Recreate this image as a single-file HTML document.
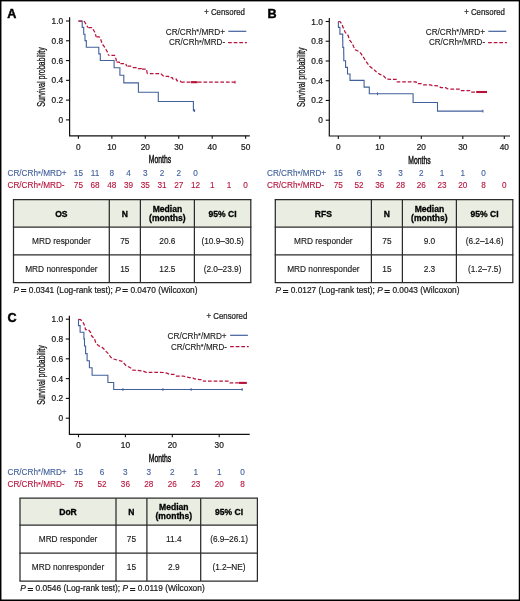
<!DOCTYPE html>
<html><head><meta charset="utf-8"><title>Figure</title>
<style>
html,body{margin:0;padding:0;background:#fff;}
body{width:520px;height:601px;overflow:hidden;}
svg{display:block;will-change:transform;font-family:"Liberation Sans", sans-serif;}
</style></head><body>
<svg width="520" height="601" viewBox="0 0 520 601">
<rect x="0" y="0" width="520" height="601" fill="#fff"/>
<rect x="0" y="0" width="1.45" height="601" fill="#000"/>
<rect x="0" y="0" width="520" height="1.4" fill="#000"/>
<rect x="518.75" y="0" width="1.25" height="601" fill="#000"/>
<rect x="0" y="599.5" width="520" height="1.5" fill="#000"/>
<path d="M69.6 17.3V135.8H249.8" stroke="#111" stroke-width="1.2" fill="none"/>
<path d="M66 119.9H69.6" stroke="#111" stroke-width="1.1"/>
<text x="63.1" y="122.9" font-size="8.3" text-anchor="end" fill="#1a1a1a" stroke="#1a1a1a" stroke-width="0.22">0</text>
<path d="M66 100.12H69.6" stroke="#111" stroke-width="1.1"/>
<text x="63.1" y="103.12" font-size="8.3" text-anchor="end" fill="#1a1a1a" stroke="#1a1a1a" stroke-width="0.22">0.2</text>
<path d="M66 80.34H69.6" stroke="#111" stroke-width="1.1"/>
<text x="63.1" y="83.34" font-size="8.3" text-anchor="end" fill="#1a1a1a" stroke="#1a1a1a" stroke-width="0.22">0.4</text>
<path d="M66 60.56H69.6" stroke="#111" stroke-width="1.1"/>
<text x="63.1" y="63.56" font-size="8.3" text-anchor="end" fill="#1a1a1a" stroke="#1a1a1a" stroke-width="0.22">0.6</text>
<path d="M66 40.78H69.6" stroke="#111" stroke-width="1.1"/>
<text x="63.1" y="43.78" font-size="8.3" text-anchor="end" fill="#1a1a1a" stroke="#1a1a1a" stroke-width="0.22">0.8</text>
<path d="M66 21H69.6" stroke="#111" stroke-width="1.1"/>
<text x="63.1" y="24" font-size="8.3" text-anchor="end" fill="#1a1a1a" stroke="#1a1a1a" stroke-width="0.22">1.0</text>
<path d="M78.4 135.8V138.8" stroke="#111" stroke-width="1.1"/>
<text x="78.4" y="150" font-size="8.3" text-anchor="middle" fill="#1a1a1a" stroke="#1a1a1a" stroke-width="0.22">0</text>
<path d="M111.85 135.8V138.8" stroke="#111" stroke-width="1.1"/>
<text x="111.85" y="150" font-size="8.3" text-anchor="middle" fill="#1a1a1a" stroke="#1a1a1a" stroke-width="0.22">10</text>
<path d="M145.3 135.8V138.8" stroke="#111" stroke-width="1.1"/>
<text x="145.3" y="150" font-size="8.3" text-anchor="middle" fill="#1a1a1a" stroke="#1a1a1a" stroke-width="0.22">20</text>
<path d="M178.75 135.8V138.8" stroke="#111" stroke-width="1.1"/>
<text x="178.75" y="150" font-size="8.3" text-anchor="middle" fill="#1a1a1a" stroke="#1a1a1a" stroke-width="0.22">30</text>
<path d="M212.2 135.8V138.8" stroke="#111" stroke-width="1.1"/>
<text x="212.2" y="150" font-size="8.3" text-anchor="middle" fill="#1a1a1a" stroke="#1a1a1a" stroke-width="0.22">40</text>
<path d="M245.65 135.8V138.8" stroke="#111" stroke-width="1.1"/>
<text x="245.65" y="150" font-size="8.3" text-anchor="middle" fill="#1a1a1a" stroke="#1a1a1a" stroke-width="0.22">50</text>
<text x="160" y="163.4" font-size="10.4" text-anchor="middle" fill="#111" textLength="22.3" lengthAdjust="spacingAndGlyphs" stroke="#111" stroke-width="0.45">Months</text>
<text x="0" y="0" font-size="10.3" stroke="#111" stroke-width="0.28" text-anchor="middle" fill="#111" textLength="59.5" lengthAdjust="spacingAndGlyphs" transform="translate(45 77) rotate(-90)">Survival probability</text>
<text x="7.2" y="18.1" font-size="12.6" text-anchor="start" font-weight="bold" fill="#000" stroke="#000" stroke-width="0.45">A</text>
<text x="245" y="14.7" font-size="8.6" text-anchor="end" fill="#1a1a1a" textLength="40.8" lengthAdjust="spacingAndGlyphs" stroke="#1a1a1a" stroke-width="0.22">+ Censored</text>
<text x="225" y="34.6" font-size="8.3" text-anchor="end" fill="#1a1a1a" textLength="59.3" lengthAdjust="spacingAndGlyphs" stroke="#1a1a1a" stroke-width="0.12">CR/CRh<tspan font-size="7.4" dy="-0.5">*</tspan><tspan dy="0.5">/MRD+</tspan></text>
<text x="225.1" y="45.4" font-size="8.3" text-anchor="end" fill="#1a1a1a" textLength="56.2" lengthAdjust="spacingAndGlyphs" stroke="#1a1a1a" stroke-width="0.12">CR/CRh<tspan font-size="7.4" dy="-0.5">*</tspan><tspan dy="0.5">/MRD-</tspan></text>
<path d="M228.3 31.3H246.3" stroke="#42609b" stroke-width="1.2"/>
<path d="M228.1 42.6H246.9" stroke="#b8123b" stroke-width="1.25" stroke-dasharray="3.7 1.9"/>
<path d="M78.4 21H82.2V27.4H83.7V34.2H85V40.6H86.3V47.3H98.8V53.9H100.3V60.5H114.1V67.7H119.9V75.2H123.8V82.9H138.4V92.2H158.3V101.45H193.4V110.6H194.8" stroke="#42609b" stroke-width="1.1" fill="none" stroke-linejoin="miter"/>
<path d="M194.6 109.2V112" stroke="#42609b" stroke-width="1" fill="none"/>
<path d="M78.4 21 L84 21 L85.4 23.2 L86.5 24.8 L87.8 27.5" stroke="#b8123b" stroke-width="1.25" fill="none" stroke-dasharray="3.7 1.92" stroke-dashoffset="0"/>
<path d="M87.8 27.5 L91.9 27.5 L93.3 29.8 L94.8 32.2 L96.2 36.8" stroke="#b8123b" stroke-width="1.25" fill="none" stroke-dasharray="3.7 1.92" stroke-dashoffset="5.12"/>
<path d="M96.2 36.8 L99.1 36.8 L100.8 39.5 L102.2 44 L104.3 46.7 L106 49.5 L107.5 52.2 L108.6 55.4" stroke="#b8123b" stroke-width="1.25" fill="none" stroke-dasharray="3.7 1.92" stroke-dashoffset="5.42"/>
<path d="M108.6 55.4 L114.5 55.4 L116 58.8 L116.4 62.1" stroke="#b8123b" stroke-width="1.25" fill="none" stroke-dasharray="3.7 1.92" stroke-dashoffset="2.82"/>
<path d="M116.4 62.1 L119.2 62.1 L120.2 63.7" stroke="#b8123b" stroke-width="1.25" fill="none" stroke-dasharray="3.7 1.92" stroke-dashoffset="5.42"/>
<path d="M120.2 63.7 L125.8 63.7 L126.6 66.2" stroke="#b8123b" stroke-width="1.25" fill="none" stroke-dasharray="3.7 1.92" stroke-dashoffset="5.42"/>
<path d="M126.6 66.2 L131.6 66.2 L132.6 67.5" stroke="#b8123b" stroke-width="1.25" fill="none" stroke-dasharray="3.7 1.92" stroke-dashoffset="4.72"/>
<path d="M132.6 67.5 L137.4 67.5 L138.2 68.5 L141.4 68.5 L141.8 69.1" stroke="#b8123b" stroke-width="1.25" fill="none" stroke-dasharray="3.7 1.92" stroke-dashoffset="5.32"/>
<path d="M141.8 69.1 L146.5 69.1 L147.2 73.5" stroke="#b8123b" stroke-width="1.25" fill="none" stroke-dasharray="3.7 1.92" stroke-dashoffset="5.42"/>
<path d="M147.2 73.5 L160.8 73.5 L162.2 75 L163.8 76.2 L168.4 76.4 L169.2 77.5 L172.2 77.7 L172.9 79 L176.4 79.2 L177 80.8 L180.2 81 L181 82.2" stroke="#b8123b" stroke-width="1.25" fill="none" stroke-dasharray="3.7 1.92" stroke-dashoffset="3.02"/>
<path d="M181 82.2 L235.2 82.2" stroke="#b8123b" stroke-width="1.25" fill="none" stroke-dasharray="3.7 1.92" stroke-dashoffset="0"/>
<path d="M235 80.8V83.6" stroke="#b8123b" stroke-width="1" fill="none"/>
<path d="M190.8 82.2H197.6" stroke="#b8123b" stroke-width="2.1"/>
<text x="7.5" y="176.2" font-size="8.2" text-anchor="start" fill="#42609b" stroke="#42609b" stroke-width="0.12">CR/CRh<tspan font-size="7.4" dy="-0.5">*</tspan><tspan dy="0.5">/MRD+</tspan></text>
<text x="7.5" y="188.4" font-size="8.2" text-anchor="start" fill="#b8123b" stroke="#b8123b" stroke-width="0.12">CR/CRh<tspan font-size="7.4" dy="-0.5">*</tspan><tspan dy="0.5">/MRD-</tspan></text>
<text x="78.4" y="176.2" font-size="8.2" text-anchor="middle" fill="#42609b" stroke="#42609b" stroke-width="0.12">15</text>
<text x="95.12" y="176.2" font-size="8.2" text-anchor="middle" fill="#42609b" stroke="#42609b" stroke-width="0.12">11</text>
<text x="111.85" y="176.2" font-size="8.2" text-anchor="middle" fill="#42609b" stroke="#42609b" stroke-width="0.12">8</text>
<text x="128.58" y="176.2" font-size="8.2" text-anchor="middle" fill="#42609b" stroke="#42609b" stroke-width="0.12">4</text>
<text x="145.3" y="176.2" font-size="8.2" text-anchor="middle" fill="#42609b" stroke="#42609b" stroke-width="0.12">3</text>
<text x="162.03" y="176.2" font-size="8.2" text-anchor="middle" fill="#42609b" stroke="#42609b" stroke-width="0.12">2</text>
<text x="178.75" y="176.2" font-size="8.2" text-anchor="middle" fill="#42609b" stroke="#42609b" stroke-width="0.12">2</text>
<text x="195.48" y="176.2" font-size="8.2" text-anchor="middle" fill="#42609b" stroke="#42609b" stroke-width="0.12">0</text>
<text x="78.4" y="188.4" font-size="8.2" text-anchor="middle" fill="#b8123b" stroke="#b8123b" stroke-width="0.12">75</text>
<text x="95.12" y="188.4" font-size="8.2" text-anchor="middle" fill="#b8123b" stroke="#b8123b" stroke-width="0.12">68</text>
<text x="111.85" y="188.4" font-size="8.2" text-anchor="middle" fill="#b8123b" stroke="#b8123b" stroke-width="0.12">48</text>
<text x="128.58" y="188.4" font-size="8.2" text-anchor="middle" fill="#b8123b" stroke="#b8123b" stroke-width="0.12">39</text>
<text x="145.3" y="188.4" font-size="8.2" text-anchor="middle" fill="#b8123b" stroke="#b8123b" stroke-width="0.12">35</text>
<text x="162.03" y="188.4" font-size="8.2" text-anchor="middle" fill="#b8123b" stroke="#b8123b" stroke-width="0.12">31</text>
<text x="178.75" y="188.4" font-size="8.2" text-anchor="middle" fill="#b8123b" stroke="#b8123b" stroke-width="0.12">27</text>
<text x="195.48" y="188.4" font-size="8.2" text-anchor="middle" fill="#b8123b" stroke="#b8123b" stroke-width="0.12">12</text>
<text x="212.2" y="188.4" font-size="8.2" text-anchor="middle" fill="#b8123b" stroke="#b8123b" stroke-width="0.12">1</text>
<text x="228.93" y="188.4" font-size="8.2" text-anchor="middle" fill="#b8123b" stroke="#b8123b" stroke-width="0.12">1</text>
<text x="245.65" y="188.4" font-size="8.2" text-anchor="middle" fill="#b8123b" stroke="#b8123b" stroke-width="0.12">0</text>
<path d="M329.3 18V136H510" stroke="#111" stroke-width="1.2" fill="none"/>
<path d="M325.7 120.2H329.3" stroke="#111" stroke-width="1.1"/>
<text x="322.9" y="123.2" font-size="8.3" text-anchor="end" fill="#1a1a1a" stroke="#1a1a1a" stroke-width="0.22">0</text>
<path d="M325.7 100.46H329.3" stroke="#111" stroke-width="1.1"/>
<text x="322.9" y="103.46" font-size="8.3" text-anchor="end" fill="#1a1a1a" stroke="#1a1a1a" stroke-width="0.22">0.2</text>
<path d="M325.7 80.72H329.3" stroke="#111" stroke-width="1.1"/>
<text x="322.9" y="83.72" font-size="8.3" text-anchor="end" fill="#1a1a1a" stroke="#1a1a1a" stroke-width="0.22">0.4</text>
<path d="M325.7 60.98H329.3" stroke="#111" stroke-width="1.1"/>
<text x="322.9" y="63.98" font-size="8.3" text-anchor="end" fill="#1a1a1a" stroke="#1a1a1a" stroke-width="0.22">0.6</text>
<path d="M325.7 41.24H329.3" stroke="#111" stroke-width="1.1"/>
<text x="322.9" y="44.24" font-size="8.3" text-anchor="end" fill="#1a1a1a" stroke="#1a1a1a" stroke-width="0.22">0.8</text>
<path d="M325.7 21.5H329.3" stroke="#111" stroke-width="1.1"/>
<text x="322.9" y="24.5" font-size="8.3" text-anchor="end" fill="#1a1a1a" stroke="#1a1a1a" stroke-width="0.22">1.0</text>
<path d="M338.3 136V139" stroke="#111" stroke-width="1.1"/>
<text x="338.3" y="150" font-size="8.3" text-anchor="middle" fill="#1a1a1a" stroke="#1a1a1a" stroke-width="0.22">0</text>
<path d="M379.8 136V139" stroke="#111" stroke-width="1.1"/>
<text x="379.8" y="150" font-size="8.3" text-anchor="middle" fill="#1a1a1a" stroke="#1a1a1a" stroke-width="0.22">10</text>
<path d="M421.3 136V139" stroke="#111" stroke-width="1.1"/>
<text x="421.3" y="150" font-size="8.3" text-anchor="middle" fill="#1a1a1a" stroke="#1a1a1a" stroke-width="0.22">20</text>
<path d="M462.8 136V139" stroke="#111" stroke-width="1.1"/>
<text x="462.8" y="150" font-size="8.3" text-anchor="middle" fill="#1a1a1a" stroke="#1a1a1a" stroke-width="0.22">30</text>
<path d="M504.3 136V139" stroke="#111" stroke-width="1.1"/>
<text x="504.3" y="150" font-size="8.3" text-anchor="middle" fill="#1a1a1a" stroke="#1a1a1a" stroke-width="0.22">40</text>
<text x="419.5" y="163.5" font-size="10.4" text-anchor="middle" fill="#111" textLength="22.3" lengthAdjust="spacingAndGlyphs" stroke="#111" stroke-width="0.45">Months</text>
<text x="0" y="0" font-size="10.3" stroke="#111" stroke-width="0.28" text-anchor="middle" fill="#111" textLength="59.5" lengthAdjust="spacingAndGlyphs" transform="translate(305 77.2) rotate(-90)">Survival probability</text>
<text x="267.4" y="17.9" font-size="12.6" text-anchor="start" font-weight="bold" fill="#000" stroke="#000" stroke-width="0.45">B</text>
<text x="505" y="14.7" font-size="8.6" text-anchor="end" fill="#1a1a1a" textLength="40.8" lengthAdjust="spacingAndGlyphs" stroke="#1a1a1a" stroke-width="0.22">+ Censored</text>
<text x="485" y="34.6" font-size="8.3" text-anchor="end" fill="#1a1a1a" textLength="59.3" lengthAdjust="spacingAndGlyphs" stroke="#1a1a1a" stroke-width="0.12">CR/CRh<tspan font-size="7.4" dy="-0.5">*</tspan><tspan dy="0.5">/MRD+</tspan></text>
<text x="485.1" y="45.4" font-size="8.3" text-anchor="end" fill="#1a1a1a" textLength="56.2" lengthAdjust="spacingAndGlyphs" stroke="#1a1a1a" stroke-width="0.12">CR/CRh<tspan font-size="7.4" dy="-0.5">*</tspan><tspan dy="0.5">/MRD-</tspan></text>
<path d="M488.3 31.3H506.3" stroke="#42609b" stroke-width="1.2"/>
<path d="M488.1 42.6H506.9" stroke="#b8123b" stroke-width="1.25" stroke-dasharray="3.7 1.9"/>
<path d="M338.4 21.5V27.4H339.9V34.1H342.7V40.8H342.8V47.4H343.7V54H343.8V60.7H345.6V67.4H347.5V74H350V80.4H364.1V87.1H369.3V93.8H413.1V102.5H437.5V111.1H483" stroke="#42609b" stroke-width="1.1" fill="none" stroke-linejoin="miter"/>
<path d="M377.5 92.4V95.2" stroke="#42609b" stroke-width="1" fill="none"/>
<path d="M482.9 109.7V112.5" stroke="#42609b" stroke-width="1" fill="none"/>
<path d="M338.4 21.5 L340.3 21.9 L342 24.5 L343.6 28.8 L345.3 32.5 L348 35.2 L349.5 40 L352 43 L353.8 47 L355.7 50 L359.5 51.7 L361.2 53.8 L362.9 56.4 L366.2 61.7 L369.6 66.3 L373 68.8 L376.2 71.7 L380 74.4 L383.5 75.8 L386.6 79.2 L396.7 79.4 L397.2 81.9 L416 81.9 L416.8 83.7 L421.5 83.7 L423.5 84.8 L430.5 84.9 L432.7 85.7 L438.5 85.8 L440.8 87.5 L445.5 87.5 L447.1 88.6 L448.5 89" stroke="#b8123b" stroke-width="1.25" fill="none" stroke-dasharray="3.7 1.92" stroke-dashoffset="0"/>
<path d="M448.5 89 L459.8 89 L460.8 90.5 L469.6 90.5 L470.5 92 L486.8 92" stroke="#b8123b" stroke-width="1.25" fill="none" stroke-dasharray="3.7 1.92" stroke-dashoffset="3.72"/>
<path d="M476.2 92H487" stroke="#b8123b" stroke-width="2.1"/>
<text x="267" y="176.2" font-size="8.2" text-anchor="start" fill="#42609b" stroke="#42609b" stroke-width="0.12">CR/CRh<tspan font-size="7.4" dy="-0.5">*</tspan><tspan dy="0.5">/MRD+</tspan></text>
<text x="267" y="188.4" font-size="8.2" text-anchor="start" fill="#b8123b" stroke="#b8123b" stroke-width="0.12">CR/CRh<tspan font-size="7.4" dy="-0.5">*</tspan><tspan dy="0.5">/MRD-</tspan></text>
<text x="338.3" y="176.2" font-size="8.2" text-anchor="middle" fill="#42609b" stroke="#42609b" stroke-width="0.12">15</text>
<text x="359.05" y="176.2" font-size="8.2" text-anchor="middle" fill="#42609b" stroke="#42609b" stroke-width="0.12">6</text>
<text x="379.8" y="176.2" font-size="8.2" text-anchor="middle" fill="#42609b" stroke="#42609b" stroke-width="0.12">3</text>
<text x="400.55" y="176.2" font-size="8.2" text-anchor="middle" fill="#42609b" stroke="#42609b" stroke-width="0.12">3</text>
<text x="421.3" y="176.2" font-size="8.2" text-anchor="middle" fill="#42609b" stroke="#42609b" stroke-width="0.12">2</text>
<text x="442.05" y="176.2" font-size="8.2" text-anchor="middle" fill="#42609b" stroke="#42609b" stroke-width="0.12">1</text>
<text x="462.8" y="176.2" font-size="8.2" text-anchor="middle" fill="#42609b" stroke="#42609b" stroke-width="0.12">1</text>
<text x="483.55" y="176.2" font-size="8.2" text-anchor="middle" fill="#42609b" stroke="#42609b" stroke-width="0.12">0</text>
<text x="338.3" y="188.4" font-size="8.2" text-anchor="middle" fill="#b8123b" stroke="#b8123b" stroke-width="0.12">75</text>
<text x="359.05" y="188.4" font-size="8.2" text-anchor="middle" fill="#b8123b" stroke="#b8123b" stroke-width="0.12">52</text>
<text x="379.8" y="188.4" font-size="8.2" text-anchor="middle" fill="#b8123b" stroke="#b8123b" stroke-width="0.12">36</text>
<text x="400.55" y="188.4" font-size="8.2" text-anchor="middle" fill="#b8123b" stroke="#b8123b" stroke-width="0.12">28</text>
<text x="421.3" y="188.4" font-size="8.2" text-anchor="middle" fill="#b8123b" stroke="#b8123b" stroke-width="0.12">26</text>
<text x="442.05" y="188.4" font-size="8.2" text-anchor="middle" fill="#b8123b" stroke="#b8123b" stroke-width="0.12">23</text>
<text x="462.8" y="188.4" font-size="8.2" text-anchor="middle" fill="#b8123b" stroke="#b8123b" stroke-width="0.12">20</text>
<text x="483.55" y="188.4" font-size="8.2" text-anchor="middle" fill="#b8123b" stroke="#b8123b" stroke-width="0.12">8</text>
<text x="504.3" y="188.4" font-size="8.2" text-anchor="middle" fill="#b8123b" stroke="#b8123b" stroke-width="0.12">0</text>
<path d="M69.4 315.8V434.3H249.7" stroke="#111" stroke-width="1.2" fill="none"/>
<path d="M65.8 418.2H69.4" stroke="#111" stroke-width="1.1"/>
<text x="63.1" y="421.2" font-size="8.3" text-anchor="end" fill="#1a1a1a" stroke="#1a1a1a" stroke-width="0.22">0</text>
<path d="M65.8 398.4H69.4" stroke="#111" stroke-width="1.1"/>
<text x="63.1" y="401.4" font-size="8.3" text-anchor="end" fill="#1a1a1a" stroke="#1a1a1a" stroke-width="0.22">0.2</text>
<path d="M65.8 378.6H69.4" stroke="#111" stroke-width="1.1"/>
<text x="63.1" y="381.6" font-size="8.3" text-anchor="end" fill="#1a1a1a" stroke="#1a1a1a" stroke-width="0.22">0.4</text>
<path d="M65.8 358.8H69.4" stroke="#111" stroke-width="1.1"/>
<text x="63.1" y="361.8" font-size="8.3" text-anchor="end" fill="#1a1a1a" stroke="#1a1a1a" stroke-width="0.22">0.6</text>
<path d="M65.8 339H69.4" stroke="#111" stroke-width="1.1"/>
<text x="63.1" y="342" font-size="8.3" text-anchor="end" fill="#1a1a1a" stroke="#1a1a1a" stroke-width="0.22">0.8</text>
<path d="M65.8 319.2H69.4" stroke="#111" stroke-width="1.1"/>
<text x="63.1" y="322.2" font-size="8.3" text-anchor="end" fill="#1a1a1a" stroke="#1a1a1a" stroke-width="0.22">1.0</text>
<path d="M78.5 434.3V437.3" stroke="#111" stroke-width="1.1"/>
<text x="78.5" y="448.4" font-size="8.3" text-anchor="middle" fill="#1a1a1a" stroke="#1a1a1a" stroke-width="0.22">0</text>
<path d="M125.4 434.3V437.3" stroke="#111" stroke-width="1.1"/>
<text x="125.4" y="448.4" font-size="8.3" text-anchor="middle" fill="#1a1a1a" stroke="#1a1a1a" stroke-width="0.22">10</text>
<path d="M172.3 434.3V437.3" stroke="#111" stroke-width="1.1"/>
<text x="172.3" y="448.4" font-size="8.3" text-anchor="middle" fill="#1a1a1a" stroke="#1a1a1a" stroke-width="0.22">20</text>
<path d="M219.2 434.3V437.3" stroke="#111" stroke-width="1.1"/>
<text x="219.2" y="448.4" font-size="8.3" text-anchor="middle" fill="#1a1a1a" stroke="#1a1a1a" stroke-width="0.22">30</text>
<text x="160" y="462.4" font-size="10.4" text-anchor="middle" fill="#111" textLength="22.3" lengthAdjust="spacingAndGlyphs" stroke="#111" stroke-width="0.45">Months</text>
<text x="0" y="0" font-size="10.3" stroke="#111" stroke-width="0.28" text-anchor="middle" fill="#111" textLength="59.5" lengthAdjust="spacingAndGlyphs" transform="translate(45 375) rotate(-90)">Survival probability</text>
<text x="7.4" y="321.8" font-size="12.6" text-anchor="start" font-weight="bold" fill="#000" stroke="#000" stroke-width="0.45">C</text>
<text x="247.3" y="319" font-size="8.6" text-anchor="end" fill="#1a1a1a" textLength="40.8" lengthAdjust="spacingAndGlyphs" stroke="#1a1a1a" stroke-width="0.22">+ Censored</text>
<text x="226.6" y="338.5" font-size="8.3" text-anchor="end" fill="#1a1a1a" textLength="59" lengthAdjust="spacingAndGlyphs" stroke="#1a1a1a" stroke-width="0.12">CR/CRh<tspan font-size="7.4" dy="-0.5">*</tspan><tspan dy="0.5">/MRD+</tspan></text>
<text x="226.9" y="349.5" font-size="8.3" text-anchor="end" fill="#1a1a1a" textLength="56" lengthAdjust="spacingAndGlyphs" stroke="#1a1a1a" stroke-width="0.12">CR/CRh<tspan font-size="7.4" dy="-0.5">*</tspan><tspan dy="0.5">/MRD-</tspan></text>
<path d="M230.1 335.3H247.9" stroke="#42609b" stroke-width="1.2"/>
<path d="M230.1 346.5H248.7" stroke="#b8123b" stroke-width="1.25" stroke-dasharray="3.7 1.9"/>
<path d="M78.5 319.3V325.6H80.1V332.3H83.9V338.9H84.5V345.8H84.9V346.3H85.6V353.6H87.1V360.8H89.4V367.7H92.1V375.2H107.9V382.5H113.7V389.5H242.3" stroke="#42609b" stroke-width="1.1" fill="none" stroke-linejoin="miter"/>
<path d="M122.9 388.1V390.9" stroke="#42609b" stroke-width="1" fill="none"/>
<path d="M162.9 388.1V390.9" stroke="#42609b" stroke-width="1" fill="none"/>
<path d="M191.1 388.1V390.9" stroke="#42609b" stroke-width="1" fill="none"/>
<path d="M242.2 388.1V390.9" stroke="#42609b" stroke-width="1" fill="none"/>
<path d="M78.5 319.3 L80.5 319.7 L82.8 321.6 L84.7 325.8 L85.5 329.7 L88.5 329.8 L90.5 332.4 L91.6 335.8 L94.3 338.5 L95.8 342.8 L98.2 345.5 L102 347.4 L103.5 348.5 L105.6 351 L108.5 353.8 L110.8 357.3 L113.7 359 L117.7 360.2 L122.3 361.3 L125.8 365.4 L130.4 367.7 L132.3 370 L142.7 370.9 L146.2 372.3 L163.5 372.5 L166.9 373.2 L169.8 374.4 L173.8 374.4 L176.2 376 L183.1 376 L186.5 376.9 L189.4 377.6 L192.4 377.6 L194.4 378.8 L197.1 378.8 L199.1 379.5 L201.8 379.5 L203.2 381.1" stroke="#b8123b" stroke-width="1.25" fill="none" stroke-dasharray="3.7 1.92" stroke-dashoffset="0"/>
<path d="M203.2 381.1 L228.7 381.1 L230 382.9 L246.9 382.9" stroke="#b8123b" stroke-width="1.25" fill="none" stroke-dasharray="3.7 1.92" stroke-dashoffset="0.82"/>
<path d="M239 382.9H246.8" stroke="#b8123b" stroke-width="2.1"/>
<text x="7.5" y="474.8" font-size="8.2" text-anchor="start" fill="#42609b" stroke="#42609b" stroke-width="0.12">CR/CRh<tspan font-size="7.4" dy="-0.5">*</tspan><tspan dy="0.5">/MRD+</tspan></text>
<text x="7.5" y="487.3" font-size="8.2" text-anchor="start" fill="#b8123b" stroke="#b8123b" stroke-width="0.12">CR/CRh<tspan font-size="7.4" dy="-0.5">*</tspan><tspan dy="0.5">/MRD-</tspan></text>
<text x="78.5" y="474.8" font-size="8.2" text-anchor="middle" fill="#42609b" stroke="#42609b" stroke-width="0.12">15</text>
<text x="101.95" y="474.8" font-size="8.2" text-anchor="middle" fill="#42609b" stroke="#42609b" stroke-width="0.12">6</text>
<text x="125.4" y="474.8" font-size="8.2" text-anchor="middle" fill="#42609b" stroke="#42609b" stroke-width="0.12">3</text>
<text x="148.85" y="474.8" font-size="8.2" text-anchor="middle" fill="#42609b" stroke="#42609b" stroke-width="0.12">3</text>
<text x="172.3" y="474.8" font-size="8.2" text-anchor="middle" fill="#42609b" stroke="#42609b" stroke-width="0.12">2</text>
<text x="195.75" y="474.8" font-size="8.2" text-anchor="middle" fill="#42609b" stroke="#42609b" stroke-width="0.12">1</text>
<text x="219.2" y="474.8" font-size="8.2" text-anchor="middle" fill="#42609b" stroke="#42609b" stroke-width="0.12">1</text>
<text x="242.65" y="474.8" font-size="8.2" text-anchor="middle" fill="#42609b" stroke="#42609b" stroke-width="0.12">0</text>
<text x="78.5" y="487.3" font-size="8.2" text-anchor="middle" fill="#b8123b" stroke="#b8123b" stroke-width="0.12">75</text>
<text x="101.95" y="487.3" font-size="8.2" text-anchor="middle" fill="#b8123b" stroke="#b8123b" stroke-width="0.12">52</text>
<text x="125.4" y="487.3" font-size="8.2" text-anchor="middle" fill="#b8123b" stroke="#b8123b" stroke-width="0.12">36</text>
<text x="148.85" y="487.3" font-size="8.2" text-anchor="middle" fill="#b8123b" stroke="#b8123b" stroke-width="0.12">28</text>
<text x="172.3" y="487.3" font-size="8.2" text-anchor="middle" fill="#b8123b" stroke="#b8123b" stroke-width="0.12">26</text>
<text x="195.75" y="487.3" font-size="8.2" text-anchor="middle" fill="#b8123b" stroke="#b8123b" stroke-width="0.12">23</text>
<text x="219.2" y="487.3" font-size="8.2" text-anchor="middle" fill="#b8123b" stroke="#b8123b" stroke-width="0.12">20</text>
<text x="242.65" y="487.3" font-size="8.2" text-anchor="middle" fill="#b8123b" stroke="#b8123b" stroke-width="0.12">8</text>
<rect x="13.5" y="199.6" width="237.3" height="27.4" fill="#eaede1"/>
<path d="M12.9 199.6H251.4" stroke="#2b2b2b" stroke-width="1.25"/>
<path d="M12.9 227H251.4" stroke="#2b2b2b" stroke-width="1.25"/>
<path d="M12.9 254.9H251.4" stroke="#2b2b2b" stroke-width="1.25"/>
<path d="M12.9 282.6H251.4" stroke="#2b2b2b" stroke-width="1.25"/>
<path d="M13.5 199.6V282.6" stroke="#2b2b2b" stroke-width="1.25"/>
<path d="M109.3 199.6V282.6" stroke="#2b2b2b" stroke-width="1.25"/>
<path d="M140.4 199.6V282.6" stroke="#2b2b2b" stroke-width="1.25"/>
<path d="M194.4 199.6V282.6" stroke="#2b2b2b" stroke-width="1.25"/>
<path d="M250.8 199.6V282.6" stroke="#2b2b2b" stroke-width="1.25"/>
<text x="61.4" y="216.5" font-size="8.55" text-anchor="middle" font-weight="bold" fill="#000" stroke="#000" stroke-width="0.3">OS</text>
<text x="124.85" y="216.5" font-size="8.55" text-anchor="middle" font-weight="bold" fill="#000" stroke="#000" stroke-width="0.3">N</text>
<text x="167.4" y="211.6" font-size="8.55" text-anchor="middle" font-weight="bold" fill="#000" stroke="#000" stroke-width="0.3">Median</text>
<text x="167.4" y="220.8" font-size="8.55" text-anchor="middle" font-weight="bold" fill="#000" stroke="#000" stroke-width="0.3">(months)</text>
<text x="222.6" y="216.5" font-size="8.55" text-anchor="middle" font-weight="bold" fill="#000" stroke="#000" stroke-width="0.3">95% CI</text>
<text x="61.4" y="243.85" font-size="8.3" text-anchor="middle" fill="#1a1a1a" stroke="#1a1a1a" stroke-width="0.14">MRD responder</text>
<text x="124.85" y="243.85" font-size="8.3" text-anchor="middle" fill="#1a1a1a" stroke="#1a1a1a" stroke-width="0.14">75</text>
<text x="167.4" y="243.85" font-size="8.3" text-anchor="middle" fill="#1a1a1a" stroke="#1a1a1a" stroke-width="0.14">20.6</text>
<text x="222.6" y="243.85" font-size="8.3" text-anchor="middle" fill="#1a1a1a" stroke="#1a1a1a" stroke-width="0.14">(10.9–30.5)</text>
<text x="61.4" y="271.65" font-size="8.3" text-anchor="middle" fill="#1a1a1a" stroke="#1a1a1a" stroke-width="0.14">MRD nonresponder</text>
<text x="124.85" y="271.65" font-size="8.3" text-anchor="middle" fill="#1a1a1a" stroke="#1a1a1a" stroke-width="0.14">15</text>
<text x="167.4" y="271.65" font-size="8.3" text-anchor="middle" fill="#1a1a1a" stroke="#1a1a1a" stroke-width="0.14">12.5</text>
<text x="222.6" y="271.65" font-size="8.3" text-anchor="middle" fill="#1a1a1a" stroke="#1a1a1a" stroke-width="0.14">(2.0–23.9)</text>
<text x="13.6" y="292.6" font-size="8.3" fill="#1a1a1a" stroke="#1a1a1a" stroke-width="0.2" textLength="183.8" lengthAdjust="spacingAndGlyphs"><tspan font-style="italic">P</tspan><tspan font-size="9.8" dx="1.6" dy="0.8" stroke-width="0.45">=</tspan><tspan dy="-0.8"> 0.0341 (Log-rank test); </tspan><tspan font-style="italic">P</tspan><tspan font-size="9.8" dx="1.6" dy="0.8" stroke-width="0.45">=</tspan><tspan dy="-0.8"> 0.0470 (Wilcoxon)</tspan></text>
<rect x="275.3" y="199.6" width="237.5" height="27.4" fill="#eaede1"/>
<path d="M274.7 199.6H513.4" stroke="#2b2b2b" stroke-width="1.25"/>
<path d="M274.7 227H513.4" stroke="#2b2b2b" stroke-width="1.25"/>
<path d="M274.7 254.9H513.4" stroke="#2b2b2b" stroke-width="1.25"/>
<path d="M274.7 282.6H513.4" stroke="#2b2b2b" stroke-width="1.25"/>
<path d="M275.3 199.6V282.6" stroke="#2b2b2b" stroke-width="1.25"/>
<path d="M371.4 199.6V282.6" stroke="#2b2b2b" stroke-width="1.25"/>
<path d="M402.4 199.6V282.6" stroke="#2b2b2b" stroke-width="1.25"/>
<path d="M456.4 199.6V282.6" stroke="#2b2b2b" stroke-width="1.25"/>
<path d="M512.8 199.6V282.6" stroke="#2b2b2b" stroke-width="1.25"/>
<text x="323.35" y="216.5" font-size="8.55" text-anchor="middle" font-weight="bold" fill="#000" stroke="#000" stroke-width="0.3">RFS</text>
<text x="386.9" y="216.5" font-size="8.55" text-anchor="middle" font-weight="bold" fill="#000" stroke="#000" stroke-width="0.3">N</text>
<text x="429.4" y="211.6" font-size="8.55" text-anchor="middle" font-weight="bold" fill="#000" stroke="#000" stroke-width="0.3">Median</text>
<text x="429.4" y="220.8" font-size="8.55" text-anchor="middle" font-weight="bold" fill="#000" stroke="#000" stroke-width="0.3">(months)</text>
<text x="484.6" y="216.5" font-size="8.55" text-anchor="middle" font-weight="bold" fill="#000" stroke="#000" stroke-width="0.3">95% CI</text>
<text x="323.35" y="243.85" font-size="8.3" text-anchor="middle" fill="#1a1a1a" stroke="#1a1a1a" stroke-width="0.14">MRD responder</text>
<text x="386.9" y="243.85" font-size="8.3" text-anchor="middle" fill="#1a1a1a" stroke="#1a1a1a" stroke-width="0.14">75</text>
<text x="429.4" y="243.85" font-size="8.3" text-anchor="middle" fill="#1a1a1a" stroke="#1a1a1a" stroke-width="0.14">9.0</text>
<text x="484.6" y="243.85" font-size="8.3" text-anchor="middle" fill="#1a1a1a" stroke="#1a1a1a" stroke-width="0.14">(6.2–14.6)</text>
<text x="323.35" y="271.65" font-size="8.3" text-anchor="middle" fill="#1a1a1a" stroke="#1a1a1a" stroke-width="0.14">MRD nonresponder</text>
<text x="386.9" y="271.65" font-size="8.3" text-anchor="middle" fill="#1a1a1a" stroke="#1a1a1a" stroke-width="0.14">15</text>
<text x="429.4" y="271.65" font-size="8.3" text-anchor="middle" fill="#1a1a1a" stroke="#1a1a1a" stroke-width="0.14">2.3</text>
<text x="484.6" y="271.65" font-size="8.3" text-anchor="middle" fill="#1a1a1a" stroke="#1a1a1a" stroke-width="0.14">(1.2–7.5)</text>
<text x="275.5" y="292.8" font-size="8.3" fill="#1a1a1a" stroke="#1a1a1a" stroke-width="0.2" textLength="184" lengthAdjust="spacingAndGlyphs"><tspan font-style="italic">P</tspan><tspan font-size="9.8" dx="1.6" dy="0.8" stroke-width="0.45">=</tspan><tspan dy="-0.8"> 0.0127 (Log-rank test); </tspan><tspan font-style="italic">P</tspan><tspan font-size="9.8" dx="1.6" dy="0.8" stroke-width="0.45">=</tspan><tspan dy="-0.8"> 0.0043 (Wilcoxon)</tspan></text>
<rect x="20" y="498.2" width="237.4" height="27" fill="#eaede1"/>
<path d="M19.4 498.2H258" stroke="#2b2b2b" stroke-width="1.25"/>
<path d="M19.4 525.2H258" stroke="#2b2b2b" stroke-width="1.25"/>
<path d="M19.4 553.2H258" stroke="#2b2b2b" stroke-width="1.25"/>
<path d="M19.4 581H258" stroke="#2b2b2b" stroke-width="1.25"/>
<path d="M20 498.2V581" stroke="#2b2b2b" stroke-width="1.25"/>
<path d="M116 498.2V581" stroke="#2b2b2b" stroke-width="1.25"/>
<path d="M146.9 498.2V581" stroke="#2b2b2b" stroke-width="1.25"/>
<path d="M200.7 498.2V581" stroke="#2b2b2b" stroke-width="1.25"/>
<path d="M257.4 498.2V581" stroke="#2b2b2b" stroke-width="1.25"/>
<text x="68" y="514.9" font-size="8.55" text-anchor="middle" font-weight="bold" fill="#000" stroke="#000" stroke-width="0.3">DoR</text>
<text x="131.45" y="514.9" font-size="8.55" text-anchor="middle" font-weight="bold" fill="#000" stroke="#000" stroke-width="0.3">N</text>
<text x="173.8" y="510" font-size="8.55" text-anchor="middle" font-weight="bold" fill="#000" stroke="#000" stroke-width="0.3">Median</text>
<text x="173.8" y="519.2" font-size="8.55" text-anchor="middle" font-weight="bold" fill="#000" stroke="#000" stroke-width="0.3">(months)</text>
<text x="229.05" y="514.9" font-size="8.55" text-anchor="middle" font-weight="bold" fill="#000" stroke="#000" stroke-width="0.3">95% CI</text>
<text x="68" y="542.1" font-size="8.3" text-anchor="middle" fill="#1a1a1a" stroke="#1a1a1a" stroke-width="0.14">MRD responder</text>
<text x="131.45" y="542.1" font-size="8.3" text-anchor="middle" fill="#1a1a1a" stroke="#1a1a1a" stroke-width="0.14">75</text>
<text x="173.8" y="542.1" font-size="8.3" text-anchor="middle" fill="#1a1a1a" stroke="#1a1a1a" stroke-width="0.14">11.4</text>
<text x="229.05" y="542.1" font-size="8.3" text-anchor="middle" fill="#1a1a1a" stroke="#1a1a1a" stroke-width="0.14">(6.9–26.1)</text>
<text x="68" y="570" font-size="8.3" text-anchor="middle" fill="#1a1a1a" stroke="#1a1a1a" stroke-width="0.14">MRD nonresponder</text>
<text x="131.45" y="570" font-size="8.3" text-anchor="middle" fill="#1a1a1a" stroke="#1a1a1a" stroke-width="0.14">15</text>
<text x="173.8" y="570" font-size="8.3" text-anchor="middle" fill="#1a1a1a" stroke="#1a1a1a" stroke-width="0.14">2.9</text>
<text x="229.05" y="570" font-size="8.3" text-anchor="middle" fill="#1a1a1a" stroke="#1a1a1a" stroke-width="0.14">(1.2–NE)</text>
<text x="20.2" y="590.9" font-size="8.3" fill="#1a1a1a" stroke="#1a1a1a" stroke-width="0.2" textLength="184.5" lengthAdjust="spacingAndGlyphs"><tspan font-style="italic">P</tspan><tspan font-size="9.8" dx="1.6" dy="0.8" stroke-width="0.45">=</tspan><tspan dy="-0.8"> 0.0546 (Log-rank test); </tspan><tspan font-style="italic">P</tspan><tspan font-size="9.8" dx="1.6" dy="0.8" stroke-width="0.45">=</tspan><tspan dy="-0.8"> 0.0119 (Wilcoxon)</tspan></text>
</svg>
</body></html>
